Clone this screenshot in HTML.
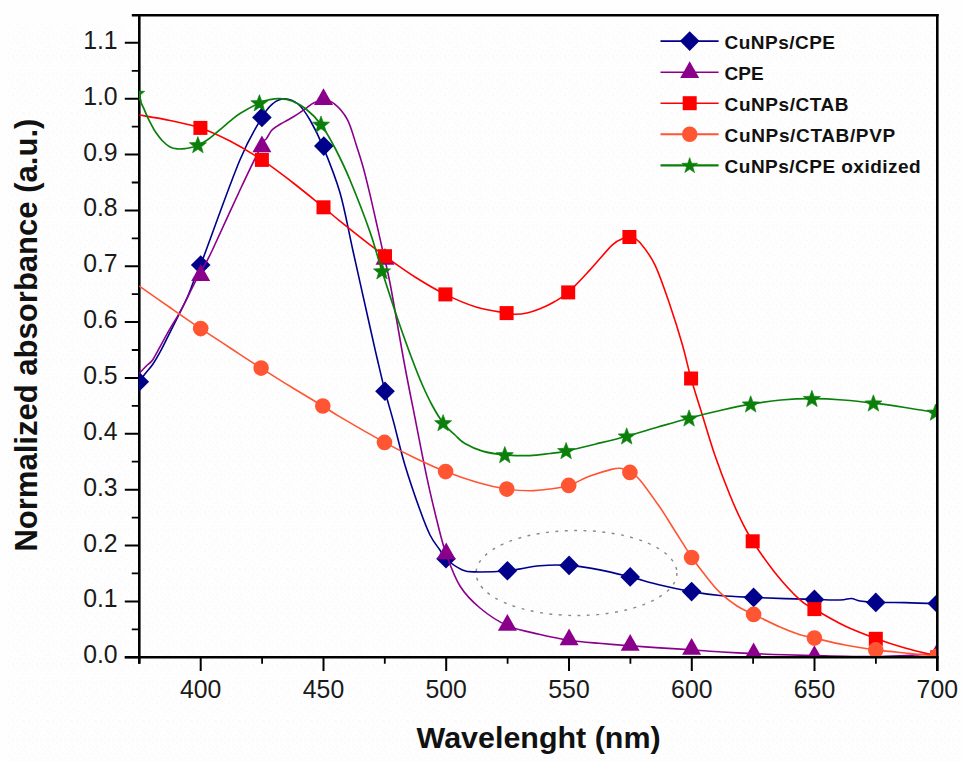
<!DOCTYPE html>
<html lang="en"><head><meta charset="utf-8"><title>Normalized absorbance vs wavelength</title>
<style>
html,body{margin:0;padding:0;background:#fefefe;}
body{width:964px;height:761px;overflow:hidden;font-family:"Liberation Sans",sans-serif;}
svg{display:block;}
</style></head><body>
<svg width="964" height="761" viewBox="0 0 964 761">
<defs><clipPath id="pc"><rect x="138.9" y="15.2" width="797.2" height="640.9"/></clipPath><pattern id="dz" width="24" height="19" patternUnits="userSpaceOnUse"><rect x="1" y="0" width="1" height="1" fill="#f1fafd"/><rect x="5" y="0" width="1" height="1" fill="#fcf4f8"/><rect x="8" y="0" width="1" height="1" fill="#f1fafd"/><rect x="13" y="0" width="1" height="1" fill="#f7f4f3"/><rect x="22" y="0" width="1" height="1" fill="#f7f4f3"/><rect x="8" y="2" width="1" height="1" fill="#f7f4f3"/><rect x="12" y="4" width="1" height="1" fill="#f1fafd"/><rect x="18" y="3" width="1" height="1" fill="#f1fafd"/><rect x="1" y="4" width="1" height="1" fill="#fcf4f8"/><rect x="16" y="5" width="1" height="1" fill="#f7f4f3"/><rect x="20" y="5" width="1" height="1" fill="#fcf4f8"/><rect x="2" y="6" width="1" height="1" fill="#f8fbe8"/><rect x="11" y="6" width="1" height="1" fill="#f8fbe8"/><rect x="0" y="6" width="1" height="1" fill="#f1fafd"/><rect x="6" y="8" width="1" height="1" fill="#f7f4f3"/><rect x="23" y="8" width="1" height="1" fill="#f1fafd"/><rect x="0" y="9" width="1" height="1" fill="#fcf4f8"/><rect x="22" y="9" width="1" height="1" fill="#fcf4f8"/><rect x="11" y="10" width="1" height="1" fill="#fcf4f8"/><rect x="2" y="12" width="1" height="1" fill="#f7f4f3"/><rect x="15" y="12" width="1" height="1" fill="#f7f4f3"/><rect x="20" y="12" width="1" height="1" fill="#f8fbe8"/><rect x="9" y="13" width="1" height="1" fill="#f1fafd"/><rect x="5" y="15" width="1" height="1" fill="#f1fafd"/><rect x="8" y="15" width="1" height="1" fill="#fcf4f8"/><rect x="12" y="16" width="1" height="1" fill="#f1fafd"/><rect x="18" y="16" width="1" height="1" fill="#f1fafd"/><rect x="20" y="13" width="1" height="1" fill="#fcf4f8"/><rect x="0" y="17" width="1" height="1" fill="#fcf4f8"/><rect x="5" y="17" width="1" height="1" fill="#fcf4f8"/><rect x="12" y="18" width="1" height="1" fill="#fcf4f8"/><rect x="16" y="17" width="1" height="1" fill="#fcf4f8"/><rect x="23" y="17" width="1" height="1" fill="#f1fafd"/></pattern></defs>
<rect x="8" y="22" width="952" height="739" fill="url(#dz)"/>
<ellipse cx="576.5" cy="573" rx="100.4" ry="42.5" fill="none" stroke="#8a8a8a" stroke-width="1.45" stroke-dasharray="2.9 6.5"/>
<g stroke="#000" fill="none">
<path d="M139.3 14.0 V663.7" stroke-width="2.6"/>
<path d="M937.3 14.0 V671.0" stroke-width="2.6"/>
<path d="M124.8 657.2 H938.6" stroke-width="2.6"/>
<path d="M131.8 15.2 H938.6" stroke-width="2.6"/>
<path d="M124.8 657.2 H139.3M124.8 601.4 H139.3M124.8 545.5 H139.3M124.8 489.7 H139.3M124.8 433.8 H139.3M124.8 378.0 H139.3M124.8 322.1 H139.3M124.8 266.3 H139.3M124.8 210.4 H139.3M124.8 154.6 H139.3M124.8 98.7 H139.3M124.8 42.8 H139.3" stroke-width="2.0"/>
<path d="M131.8 629.3 H139.3M131.8 573.4 H139.3M131.8 517.6 H139.3M131.8 461.7 H139.3M131.8 405.9 H139.3M131.8 350.0 H139.3M131.8 294.2 H139.3M131.8 238.3 H139.3M131.8 182.5 H139.3M131.8 126.6 H139.3M131.8 70.8 H139.3" stroke-width="1.8"/>
<path d="M200.7 657.2 V671.0M323.5 657.2 V671.0M446.2 657.2 V671.0M569.0 657.2 V671.0M691.8 657.2 V671.0M814.5 657.2 V671.0M937.3 657.2 V671.0" stroke-width="2.0"/>
<path d="M139.3 657.2 V663.7M262.1 657.2 V663.7M384.8 657.2 V663.7M507.6 657.2 V663.7M630.4 657.2 V663.7M753.1 657.2 V663.7M875.9 657.2 V663.7" stroke-width="1.8"/>
</g>
<g clip-path="url(#pc)">
<path d="M139.3 381.8 C140.4 380.4 143.4 376.0 145.7 373.1 C147.9 370.2 150.2 368.2 152.8 364.2 C155.5 360.2 158.7 354.6 161.6 349.1 C164.5 343.6 167.5 337.2 170.5 331.3 C173.5 325.4 176.4 319.7 179.4 313.6 C182.4 307.6 185.5 301.5 188.3 295.0 C191.1 288.5 194.1 279.5 196.2 274.5 C198.3 269.5 199.0 269.1 200.7 265.0 C202.4 260.9 199.7 267.5 206.2 250.0 C212.7 232.5 230.6 182.1 239.9 160.0 C249.2 137.9 256.4 126.8 261.9 117.4 C267.4 108.0 269.2 106.6 273.0 103.5 C276.8 100.4 280.6 98.6 284.8 98.7 C289.0 98.8 293.8 100.5 298.0 104.0 C302.2 107.5 305.9 113.0 310.0 120.0 C314.1 127.0 317.8 134.0 322.8 146.1 C327.8 158.2 335.0 175.5 340.0 192.8 C345.0 210.1 347.8 227.6 352.8 250.0 C357.8 272.4 365.9 308.7 370.0 327.0 C374.1 345.3 375.0 349.3 377.5 360.0 C380.0 370.7 382.3 380.8 385.0 391.2 C387.7 401.6 390.4 410.1 393.7 422.4 C397.0 434.7 400.5 450.3 404.9 464.9 C409.3 479.5 415.7 498.1 419.9 509.8 C424.1 521.5 426.7 528.3 430.0 535.0 C433.3 541.7 437.2 546.0 439.9 550.0 C442.6 554.0 442.2 555.7 446.0 559.0 C449.8 562.3 457.6 567.8 462.4 569.9 C467.2 572.0 467.4 571.8 474.9 571.9 C482.4 572.0 496.6 571.7 507.4 570.7 C518.2 569.7 529.6 566.6 539.9 565.7 C550.2 564.8 559.1 564.7 569.1 565.4 C579.1 566.1 589.7 568.0 599.8 569.9 C609.9 571.8 619.8 574.4 629.8 576.9 C639.8 579.4 649.7 582.5 660.0 585.0 C670.3 587.5 681.6 589.9 691.6 591.6 C701.6 593.4 709.7 594.5 720.0 595.5 C730.3 596.5 742.8 596.9 753.6 597.4 C764.4 597.9 774.9 598.3 785.0 598.6 C795.1 598.9 805.2 599.2 814.4 599.4 C823.6 599.6 833.8 600.1 840.0 600.0 C846.2 599.9 848.1 598.3 851.4 598.5 C854.7 598.7 855.9 600.4 860.0 601.0 C864.1 601.6 868.3 602.1 875.8 602.4 C883.3 602.7 894.8 602.4 905.0 602.6 C915.2 602.8 931.9 603.4 937.3 603.6" fill="none" stroke="#00008b" stroke-width="1.60" stroke-linejoin="round"/>
<path d="M139.3 372.0 l9.8 9.8 l-9.8 9.8 l-9.8 -9.8 z" fill="#00008b"/>
<path d="M200.7 255.2 l9.8 9.8 l-9.8 9.8 l-9.8 -9.8 z" fill="#00008b"/>
<path d="M261.9 107.6 l9.8 9.8 l-9.8 9.8 l-9.8 -9.8 z" fill="#00008b"/>
<path d="M323.8 136.3 l9.8 9.8 l-9.8 9.8 l-9.8 -9.8 z" fill="#00008b"/>
<path d="M385.0 381.4 l9.8 9.8 l-9.8 9.8 l-9.8 -9.8 z" fill="#00008b"/>
<path d="M446.0 548.9 l9.8 9.8 l-9.8 9.8 l-9.8 -9.8 z" fill="#00008b"/>
<path d="M507.4 560.9 l9.8 9.8 l-9.8 9.8 l-9.8 -9.8 z" fill="#00008b"/>
<path d="M569.1 555.6 l9.8 9.8 l-9.8 9.8 l-9.8 -9.8 z" fill="#00008b"/>
<path d="M630.2 567.1 l9.8 9.8 l-9.8 9.8 l-9.8 -9.8 z" fill="#00008b"/>
<path d="M691.6 581.8 l9.8 9.8 l-9.8 9.8 l-9.8 -9.8 z" fill="#00008b"/>
<path d="M753.6 587.6 l9.8 9.8 l-9.8 9.8 l-9.8 -9.8 z" fill="#00008b"/>
<path d="M814.4 589.6 l9.8 9.8 l-9.8 9.8 l-9.8 -9.8 z" fill="#00008b"/>
<path d="M875.8 592.6 l9.8 9.8 l-9.8 9.8 l-9.8 -9.8 z" fill="#00008b"/>
<path d="M937.3 593.8 l9.8 9.8 l-9.8 9.8 l-9.8 -9.8 z" fill="#00008b"/>
<path d="M139.3 373.4 C140.4 372.2 143.8 368.6 146.0 366.3 C148.2 364.0 150.2 363.4 152.8 359.7 C155.4 355.9 158.7 349.1 161.6 343.8 C164.5 338.5 167.5 332.9 170.5 327.8 C173.5 322.7 176.4 318.5 179.4 313.2 C182.4 307.9 185.4 301.6 188.3 295.8 C191.2 290.0 194.5 283.1 197.1 278.1 C199.7 273.1 201.4 270.7 204.0 266.0 C206.6 261.3 206.4 262.7 212.4 250.0 C218.4 237.3 231.8 207.5 240.0 190.0 C248.2 172.5 257.5 153.5 261.9 145.0 C266.3 136.5 264.7 141.3 266.3 138.9 C267.9 136.5 269.8 132.6 271.5 130.5 C273.2 128.4 275.0 127.5 276.8 126.3 C278.6 125.1 280.4 124.1 282.1 123.1 C283.9 122.1 285.6 121.3 287.3 120.3 C289.1 119.3 290.5 118.6 292.6 117.3 C294.7 116.0 297.4 114.3 299.9 112.6 C302.3 110.9 305.0 108.9 307.3 107.3 C309.6 105.7 310.9 104.3 313.6 103.1 C316.3 101.9 320.1 99.9 323.5 100.0 C326.9 100.1 330.1 100.4 334.1 103.6 C338.1 106.8 343.6 112.4 347.3 119.4 C351.0 126.4 353.9 137.8 356.5 145.7 C359.1 153.6 360.8 158.8 363.0 166.7 C365.2 174.6 367.4 183.7 369.6 192.9 C371.8 202.1 374.0 212.2 376.2 221.8 C378.4 231.4 380.4 240.5 382.7 250.7 C385.0 260.9 386.5 264.8 390.0 283.0 C393.5 301.2 399.6 337.6 403.7 360.0 C407.8 382.4 410.9 397.4 414.9 417.4 C418.8 437.4 423.5 462.0 427.4 479.9 C431.2 497.8 434.9 512.6 438.0 525.0 C441.1 537.4 442.5 543.8 446.2 554.0 C449.9 564.2 454.4 577.0 460.0 586.0 C465.6 595.0 472.1 601.4 480.0 608.0 C487.9 614.6 497.6 621.2 507.4 625.6 C517.2 630.0 528.7 631.8 539.0 634.2 C549.3 636.6 559.1 638.7 569.1 640.2 C579.1 641.7 588.8 642.4 599.0 643.3 C609.2 644.2 620.0 645.0 630.2 645.8 C640.4 646.6 649.8 647.2 660.0 647.9 C670.2 648.6 681.3 649.1 691.6 649.8 C701.9 650.5 711.7 651.4 722.0 652.0 C732.3 652.6 743.3 653.1 753.6 653.6 C763.9 654.1 773.9 654.5 784.0 654.8 C794.1 655.1 804.2 655.4 814.4 655.6 C824.6 655.8 834.8 656.1 845.0 656.2 C855.2 656.4 865.8 656.6 875.8 656.5 C885.8 656.4 897.6 655.8 905.0 655.5 C912.4 655.2 914.6 654.9 920.0 654.6 C925.4 654.3 934.4 653.7 937.3 653.5" fill="none" stroke="#8b008b" stroke-width="1.60" stroke-linejoin="round"/>
<path d="M200.7 264.3 L210.2 281.1 L191.2 281.1 z" fill="#8b008b"/>
<path d="M261.9 135.5 L271.4 152.3 L252.4 152.3 z" fill="#8b008b"/>
<path d="M323.5 88.3 L333.0 105.1 L314.0 105.1 z" fill="#8b008b"/>
<path d="M385.0 248.0 L394.5 264.8 L375.5 264.8 z" fill="#8b008b"/>
<path d="M446.2 542.4 L455.7 559.2 L436.7 559.2 z" fill="#8b008b"/>
<path d="M507.4 613.9 L516.9 630.7 L497.9 630.7 z" fill="#8b008b"/>
<path d="M569.1 628.4 L578.6 645.2 L559.6 645.2 z" fill="#8b008b"/>
<path d="M630.2 633.9 L639.7 650.7 L620.7 650.7 z" fill="#8b008b"/>
<path d="M691.6 637.9 L701.1 654.7 L682.1 654.7 z" fill="#8b008b"/>
<path d="M753.6 642.6 L763.1 659.4 L744.1 659.4 z" fill="#8b008b"/>
<path d="M814.4 645.2 L823.9 662.0 L804.9 662.0 z" fill="#8b008b"/>
<path d="M875.8 646.5 L885.3 663.3 L866.3 663.3 z" fill="#8b008b"/>
<path d="M937.3 642.6 L946.8 659.4 L927.8 659.4 z" fill="#8b008b"/>
<path d="M139.3 115.0 C144.4 115.9 159.8 118.3 170.0 120.5 C180.2 122.7 190.4 124.5 200.4 127.9 C210.4 131.3 219.8 135.7 230.0 141.0 C240.2 146.3 251.6 153.1 261.9 159.9 C272.2 166.7 281.7 174.1 292.0 182.0 C302.3 189.9 315.5 200.8 323.5 207.3 C331.5 213.8 332.2 214.9 340.0 221.2 C347.8 227.4 362.5 239.0 370.0 244.8 C377.5 250.6 377.5 250.8 385.0 256.2 C392.5 261.6 404.9 270.6 415.0 277.0 C425.1 283.4 435.2 289.4 445.4 294.4 C455.6 299.4 465.8 303.9 476.0 307.0 C486.2 310.1 500.1 311.9 506.6 313.1 C513.1 314.3 511.6 314.2 515.0 314.2 C518.4 314.2 522.8 313.9 527.0 313.0 C531.2 312.1 535.5 310.6 540.0 308.8 C544.5 307.0 549.3 304.7 554.0 302.0 C558.7 299.3 562.2 297.8 568.2 292.4 C574.2 287.0 582.6 277.8 590.0 269.9 C597.4 262.0 606.7 250.2 612.4 244.9 C618.1 239.6 620.9 239.3 624.0 238.0 C627.1 236.7 628.4 236.3 631.0 237.0 C633.6 237.7 635.9 237.8 639.9 242.4 C643.9 247.1 649.9 254.5 654.9 264.9 C659.9 275.3 665.3 291.6 669.9 304.9 C674.5 318.2 678.9 332.5 682.4 344.8 C685.9 357.1 687.8 366.8 691.1 378.5 C694.4 390.2 698.3 402.2 702.3 414.9 C706.2 427.6 710.2 441.6 714.8 454.9 C719.4 468.2 725.4 483.9 729.8 494.8 C734.2 505.7 737.2 512.2 741.0 520.0 C744.8 527.8 747.1 532.6 752.7 541.3 C758.3 550.0 766.9 562.6 774.8 572.4 C782.7 582.2 793.4 593.8 800.0 599.9 C806.6 606.0 806.9 604.8 814.4 609.1 C821.9 613.5 834.8 621.1 845.0 626.0 C855.2 630.9 865.8 634.8 875.8 638.5 C885.8 642.2 894.8 645.1 905.0 648.0 C915.2 650.9 931.9 654.7 937.3 656.0" fill="none" stroke="#ff0000" stroke-width="1.60" stroke-linejoin="round"/>
<rect x="193.4" y="120.9" width="14.0" height="14.0" fill="#ff0000"/>
<rect x="254.9" y="152.9" width="14.0" height="14.0" fill="#ff0000"/>
<rect x="316.5" y="200.3" width="14.0" height="14.0" fill="#ff0000"/>
<rect x="378.0" y="249.2" width="14.0" height="14.0" fill="#ff0000"/>
<rect x="438.4" y="287.4" width="14.0" height="14.0" fill="#ff0000"/>
<rect x="499.6" y="306.1" width="14.0" height="14.0" fill="#ff0000"/>
<rect x="561.2" y="285.4" width="14.0" height="14.0" fill="#ff0000"/>
<rect x="622.4" y="230.0" width="14.0" height="14.0" fill="#ff0000"/>
<rect x="684.1" y="371.5" width="14.0" height="14.0" fill="#ff0000"/>
<rect x="745.7" y="534.3" width="14.0" height="14.0" fill="#ff0000"/>
<rect x="807.4" y="602.1" width="14.0" height="14.0" fill="#ff0000"/>
<rect x="868.8" y="631.8" width="14.0" height="14.0" fill="#ff0000"/>
<rect x="930.3" y="650.2" width="14.0" height="14.0" fill="#ff0000"/>
<path d="M139.3 286.2 C144.4 289.8 159.8 300.4 170.0 307.5 C180.2 314.6 190.5 321.8 200.7 328.6 C210.9 335.4 220.9 341.9 231.0 348.5 C241.1 355.1 250.9 361.6 261.1 368.1 C271.3 374.6 281.7 381.2 292.0 387.5 C302.3 393.8 314.8 401.1 322.8 406.0 C330.8 410.9 329.7 410.8 340.0 416.9 C350.3 423.0 372.0 435.5 384.5 442.4 C397.0 449.2 404.8 453.1 415.0 458.0 C425.2 462.9 435.4 467.6 445.6 471.6 C455.8 475.6 465.8 479.1 476.0 482.0 C486.2 484.9 497.8 487.6 506.8 489.1 C515.8 490.6 522.8 490.8 530.0 490.8 C537.2 490.8 543.5 489.9 550.0 489.0 C556.5 488.1 562.0 487.5 568.7 485.4 C575.4 483.2 582.7 478.8 590.0 476.1 C597.3 473.4 607.1 470.4 612.4 469.1 C617.7 467.8 619.1 467.9 622.0 468.5 C624.9 469.1 626.9 470.5 629.9 472.4 C632.9 474.3 634.9 474.1 639.9 479.9 C644.9 485.7 654.0 498.8 659.9 507.3 C665.8 515.8 669.7 522.7 675.0 531.0 C680.3 539.3 686.6 549.7 691.6 557.0 C696.6 564.3 700.3 569.1 705.0 575.0 C709.7 580.9 714.5 587.2 719.8 592.4 C725.1 597.6 731.4 602.3 737.0 606.0 C742.6 609.7 746.4 610.9 753.6 614.4 C760.8 617.9 772.3 623.6 780.0 627.0 C787.7 630.4 794.3 632.9 800.0 634.8 C805.7 636.6 806.9 636.4 814.4 638.1 C821.9 639.8 834.8 643.0 845.0 645.0 C855.2 647.0 865.8 648.6 875.8 649.9 C885.8 651.2 894.8 652.0 905.0 653.0 C915.2 654.0 931.9 655.5 937.3 656.0" fill="none" stroke="#ff5533" stroke-width="1.60" stroke-linejoin="round"/>
<circle cx="200.7" cy="328.6" r="7.8" fill="#ff5533"/>
<circle cx="261.1" cy="368.1" r="7.8" fill="#ff5533"/>
<circle cx="322.8" cy="406.0" r="7.8" fill="#ff5533"/>
<circle cx="384.5" cy="442.4" r="7.8" fill="#ff5533"/>
<circle cx="445.6" cy="471.6" r="7.8" fill="#ff5533"/>
<circle cx="506.8" cy="489.1" r="7.8" fill="#ff5533"/>
<circle cx="568.7" cy="485.4" r="7.8" fill="#ff5533"/>
<circle cx="629.9" cy="472.4" r="7.8" fill="#ff5533"/>
<circle cx="691.6" cy="557.5" r="7.8" fill="#ff5533"/>
<circle cx="753.6" cy="614.4" r="7.8" fill="#ff5533"/>
<circle cx="814.4" cy="638.1" r="7.8" fill="#ff5533"/>
<circle cx="875.8" cy="649.9" r="7.8" fill="#ff5533"/>
<circle cx="937.0" cy="656.2" r="7.8" fill="#ff5533"/>
<path d="M139.3 93.0 C139.5 94.3 139.7 98.3 140.5 101.0 C141.3 103.7 143.0 106.6 144.2 109.4 C145.4 112.2 146.7 115.3 147.9 117.9 C149.1 120.5 150.4 122.9 151.6 125.2 C152.8 127.5 153.4 128.9 155.2 131.5 C157.0 134.1 160.1 138.4 162.6 141.0 C165.1 143.6 167.6 145.7 170.0 147.0 C172.4 148.3 174.7 148.7 177.3 148.9 C179.9 149.2 183.1 148.8 185.7 148.5 C188.3 148.2 191.1 147.5 193.1 147.0 C195.1 146.5 195.3 146.6 197.4 145.6 C199.5 144.6 202.9 142.8 205.7 141.0 C208.5 139.2 211.3 136.9 214.1 134.7 C216.9 132.5 219.8 129.8 222.5 127.6 C225.2 125.3 227.1 123.5 230.0 121.2 C232.9 118.9 235.1 116.5 240.0 113.5 C244.9 110.5 254.4 105.3 259.4 103.0 C264.4 100.7 266.6 100.3 270.0 99.6 C273.4 98.9 276.2 98.5 279.9 98.7 C283.6 98.9 287.6 99.3 292.0 101.0 C296.4 102.7 301.2 105.1 306.0 109.0 C310.8 112.9 316.2 117.9 321.0 124.4 C325.8 130.9 330.2 138.7 335.0 148.0 C339.8 157.3 344.2 166.0 350.0 180.0 C355.8 194.0 364.7 216.8 370.0 232.0 C375.3 247.2 377.3 256.3 382.0 271.0 C386.7 285.7 392.9 305.2 398.0 320.0 C403.1 334.8 408.3 349.2 412.4 360.0 C416.5 370.8 419.1 377.5 422.4 385.0 C425.7 392.5 428.6 398.7 432.0 405.0 C435.4 411.3 439.3 417.9 443.1 422.9 C446.9 427.9 451.4 431.6 455.0 435.0 C458.6 438.4 460.3 440.9 464.9 443.6 C469.5 446.3 475.8 449.2 482.4 451.1 C489.0 453.0 496.9 454.1 504.8 454.9 C512.7 455.6 522.3 455.8 529.8 455.6 C537.3 455.4 544.0 454.2 550.0 453.5 C556.0 452.8 558.3 452.7 566.0 451.1 C573.7 449.5 585.9 446.5 596.0 444.0 C606.1 441.5 616.4 439.0 626.7 436.2 C637.0 433.4 647.6 430.0 658.0 427.0 C668.4 424.0 678.8 420.9 689.1 418.2 C699.4 415.4 709.7 412.8 720.0 410.5 C730.3 408.2 740.5 405.9 750.7 404.2 C760.9 402.4 770.8 400.9 781.0 400.0 C791.2 399.1 801.6 398.7 811.9 398.7 C822.2 398.7 832.8 399.2 843.0 400.0 C853.2 400.8 863.1 401.9 873.4 403.2 C883.7 404.4 894.4 405.9 905.0 407.5 C915.6 409.1 931.9 412.0 937.3 412.9" fill="none" stroke="#0a800a" stroke-width="1.70" stroke-linejoin="round"/>
<polygon points="136.2,85.1 138.4,91.0 144.8,91.3 139.8,95.3 141.5,101.4 136.2,97.9 130.9,101.4 132.6,95.3 127.6,91.3 134.0,91.0" fill="#0a800a" stroke="#0a800a" stroke-width="0.6" stroke-linejoin="round"/>
<polygon points="197.9,136.5 200.1,142.4 206.5,142.7 201.5,146.7 203.2,152.8 197.9,149.3 192.6,152.8 194.3,146.7 189.3,142.7 195.7,142.4" fill="#0a800a" stroke="#0a800a" stroke-width="0.6" stroke-linejoin="round"/>
<polygon points="259.4,94.6 261.6,100.5 268.0,100.8 263.0,104.8 264.7,110.9 259.4,107.4 254.1,110.9 255.8,104.8 250.8,100.8 257.2,100.5" fill="#0a800a" stroke="#0a800a" stroke-width="0.6" stroke-linejoin="round"/>
<polygon points="321.0,116.0 323.2,121.9 329.6,122.2 324.6,126.2 326.3,132.3 321.0,128.8 315.7,132.3 317.4,126.2 312.4,122.2 318.8,121.9" fill="#0a800a" stroke="#0a800a" stroke-width="0.6" stroke-linejoin="round"/>
<polygon points="382.0,262.7 384.2,268.6 390.6,268.9 385.6,272.9 387.3,279.0 382.0,275.5 376.7,279.0 378.4,272.9 373.4,268.9 379.8,268.6" fill="#0a800a" stroke="#0a800a" stroke-width="0.6" stroke-linejoin="round"/>
<polygon points="443.1,414.5 445.3,420.4 451.7,420.7 446.7,424.7 448.4,430.8 443.1,427.3 437.8,430.8 439.5,424.7 434.5,420.7 440.9,420.4" fill="#0a800a" stroke="#0a800a" stroke-width="0.6" stroke-linejoin="round"/>
<polygon points="504.8,446.5 507.0,452.4 513.4,452.7 508.4,456.7 510.1,462.8 504.8,459.3 499.5,462.8 501.2,456.7 496.2,452.7 502.6,452.4" fill="#0a800a" stroke="#0a800a" stroke-width="0.6" stroke-linejoin="round"/>
<polygon points="566.1,442.4 568.3,448.3 574.7,448.6 569.7,452.6 571.4,458.7 566.1,455.2 560.8,458.7 562.5,452.6 557.5,448.6 563.9,448.3" fill="#0a800a" stroke="#0a800a" stroke-width="0.6" stroke-linejoin="round"/>
<polygon points="626.7,427.8 628.9,433.7 635.3,434.0 630.3,438.0 632.0,444.1 626.7,440.6 621.4,444.1 623.1,438.0 618.1,434.0 624.5,433.7" fill="#0a800a" stroke="#0a800a" stroke-width="0.6" stroke-linejoin="round"/>
<polygon points="689.1,409.8 691.3,415.7 697.7,416.0 692.7,420.0 694.4,426.1 689.1,422.6 683.8,426.1 685.5,420.0 680.5,416.0 686.9,415.7" fill="#0a800a" stroke="#0a800a" stroke-width="0.6" stroke-linejoin="round"/>
<polygon points="750.7,395.8 752.9,401.7 759.3,402.0 754.3,406.0 756.0,412.1 750.7,408.6 745.4,412.1 747.1,406.0 742.1,402.0 748.5,401.7" fill="#0a800a" stroke="#0a800a" stroke-width="0.6" stroke-linejoin="round"/>
<polygon points="811.9,390.3 814.1,396.2 820.5,396.5 815.5,400.5 817.2,406.6 811.9,403.1 806.6,406.6 808.3,400.5 803.3,396.5 809.7,396.2" fill="#0a800a" stroke="#0a800a" stroke-width="0.6" stroke-linejoin="round"/>
<polygon points="873.4,394.8 875.6,400.7 882.0,401.0 877.0,405.0 878.7,411.1 873.4,407.6 868.1,411.1 869.8,405.0 864.8,401.0 871.2,400.7" fill="#0a800a" stroke="#0a800a" stroke-width="0.6" stroke-linejoin="round"/>
<polygon points="935.5,404.0 937.7,409.9 944.1,410.2 939.1,414.2 940.8,420.3 935.5,416.8 930.2,420.3 931.9,414.2 926.9,410.2 933.3,409.9" fill="#0a800a" stroke="#0a800a" stroke-width="0.6" stroke-linejoin="round"/>
</g>
<g font-family="'Liberation Sans', sans-serif" font-size="24.8" fill="#1a1a1a">
<text transform="translate(117.6 663.2) scale(1 1.07)" text-anchor="end">0.0</text>
<text transform="translate(117.6 607.4) scale(1 1.07)" text-anchor="end">0.1</text>
<text transform="translate(117.6 551.5) scale(1 1.07)" text-anchor="end">0.2</text>
<text transform="translate(117.6 495.7) scale(1 1.07)" text-anchor="end">0.3</text>
<text transform="translate(117.6 439.8) scale(1 1.07)" text-anchor="end">0.4</text>
<text transform="translate(117.6 384.0) scale(1 1.07)" text-anchor="end">0.5</text>
<text transform="translate(117.6 328.1) scale(1 1.07)" text-anchor="end">0.6</text>
<text transform="translate(117.6 272.3) scale(1 1.07)" text-anchor="end">0.7</text>
<text transform="translate(117.6 216.4) scale(1 1.07)" text-anchor="end">0.8</text>
<text transform="translate(117.6 160.6) scale(1 1.07)" text-anchor="end">0.9</text>
<text transform="translate(117.6 104.7) scale(1 1.07)" text-anchor="end">1.0</text>
<text transform="translate(117.6 48.8) scale(1 1.07)" text-anchor="end">1.1</text>
<text transform="translate(200.7 697.7) scale(1 1.07)" text-anchor="middle">400</text>
<text transform="translate(323.5 697.7) scale(1 1.07)" text-anchor="middle">450</text>
<text transform="translate(446.2 697.7) scale(1 1.07)" text-anchor="middle">500</text>
<text transform="translate(569.0 697.7) scale(1 1.07)" text-anchor="middle">550</text>
<text transform="translate(691.8 697.7) scale(1 1.07)" text-anchor="middle">600</text>
<text transform="translate(814.5 697.7) scale(1 1.07)" text-anchor="middle">650</text>
<text transform="translate(937.3 697.7) scale(1 1.07)" text-anchor="middle">700</text>
</g>
<g font-family="'Liberation Sans', sans-serif" font-weight="bold" fill="#111">
<text x="416.6" y="748" font-size="29.5" textLength="244" lengthAdjust="spacingAndGlyphs">Wavelenght (nm)</text>
<text transform="translate(37 551.6) rotate(-90)" font-size="31" textLength="433" lengthAdjust="spacingAndGlyphs">Normalized absorbance (a.u.)</text>
</g>
<g font-family="'Liberation Sans', sans-serif" font-weight="bold" font-size="19" fill="#111">
<path d="M660.5 41.1 H718.6" stroke="#00008b" stroke-width="1.60"/>
<path d="M689.7 31.3 l9.8 9.8 l-9.8 9.8 l-9.8 -9.8 z" fill="#00008b"/>
<text x="724.6" y="48.8" textLength="110.4" lengthAdjust="spacing">CuNPs/CPE</text>
<path d="M660.5 72.2 H718.6" stroke="#8b008b" stroke-width="1.60"/>
<path d="M689.7 61.2 L699.2 78.0 L680.2 78.0 z" fill="#8b008b"/>
<text x="724.6" y="79.9" textLength="39.1" lengthAdjust="spacing">CPE</text>
<path d="M660.5 103.2 H718.6" stroke="#ff0000" stroke-width="1.60"/>
<rect x="682.7" y="96.2" width="14.0" height="14.0" fill="#ff0000"/>
<text x="724.6" y="110.9" textLength="124.0" lengthAdjust="spacing">CuNPs/CTAB</text>
<path d="M660.5 134.3 H718.6" stroke="#ff5533" stroke-width="1.90"/>
<circle cx="689.7" cy="134.3" r="7.8" fill="#ff5533"/>
<text x="724.6" y="142.0" textLength="170.6" lengthAdjust="spacing">CuNPs/CTAB/PVP</text>
<path d="M660.5 165.3 H718.6" stroke="#0a800a" stroke-width="2.20"/>
<polygon points="689.7,157.6 691.6,163.2 697.6,163.3 692.8,166.9 694.6,172.6 689.7,169.2 684.8,172.6 686.6,166.9 681.8,163.3 687.8,163.2" fill="#0a800a" stroke="#0a800a" stroke-width="0.6" stroke-linejoin="round"/>
<text x="724.6" y="173.0" textLength="196.0" lengthAdjust="spacing">CuNPs/CPE oxidized</text>
</g>
</svg>
</body></html>
